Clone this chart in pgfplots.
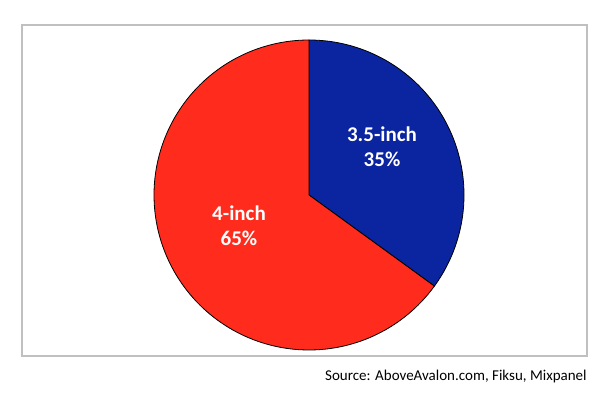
\documentclass[border=0pt]{standalone}
\usepackage{fontspec}
\setmainfont{Carlito}
\usepackage{pgfplots}
\pgfplotsset{compat=1.18}
\definecolor{pieblue}{RGB}{11,36,160}
\definecolor{piered}{RGB}{255,43,28}
\definecolor{framegray}{RGB}{192,192,192}
% shares in percent
\def\shareA{35} % 3.5-inch
\def\shareB{65} % 4-inch
\begin{document}
\begin{tikzpicture}
\begin{axis}[
  hide axis, scale only axis,
  width=610pt, height=401pt,
  xmin=0, xmax=610, ymin=0, ymax=401,
  clip=false,
]
\path (axis cs:0,0) rectangle (axis cs:610,401);
\draw[framegray, line width=1.5pt] (axis cs:22,376) rectangle (axis cs:587,45);
% blue slice: clockwise from 12 o'clock
\addplot[fill=pieblue, draw=black, line width=0.8pt, samples=120,
  domain={90-\shareA*3.6}:90]
  ({309+155*cos(x)}, {206+155*sin(x)}) -- (axis cs:309,206) -- cycle;
% red slice
\addplot[fill=piered, draw=black, line width=0.8pt, samples=200,
  domain={90-(\shareA+\shareB)*3.6}:{90-\shareA*3.6}]
  ({309+155*cos(x)}, {206+155*sin(x)}) -- (axis cs:309,206) -- cycle;
\node[white, font=\fontsize{21}{25}\selectfont\bfseries, align=center]
  at (axis cs:382,254) {3.5-inch\\35\%};
\node[white, font=\fontsize{21}{25}\selectfont\bfseries, align=center]
  at (axis cs:239,175) {4-inch\\65\%};
\node[anchor=base west, inner sep=0pt, font=\fontsize{15}{18}\selectfont]
  at (axis cs:325,20) {Source: AboveAvalon.com, Fiksu, Mixpanel};
\end{axis}
\end{tikzpicture}
\end{document}
